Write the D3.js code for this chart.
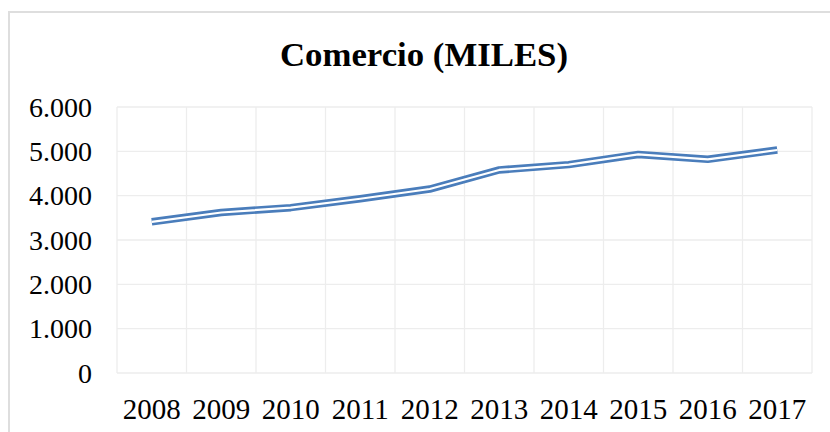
<!DOCTYPE html>
<html><head><meta charset="utf-8">
<script src="https://cdn.jsdelivr.net/npm/d3@7"></script>
<style>body{margin:0;background:#fff}svg{display:block}</style>
</head><body><svg id="c" width="830" height="432"></svg>
<script>
const years = ["2008","2009","2010","2011","2012","2013","2014","2015","2016","2017"];
const comercio = [3410, 3620, 3730, 3930, 4150, 4580, 4700, 4930, 4820, 5030];
const yTicks = [0, 1000, 2000, 3000, 4000, 5000, 6000];
const title = "Comercio (MILES)";

const svg = d3.select("#c");
const W = 830, H = 432;
const m = {l:117, r:812, t:107, b:373};
// chart border
svg.append("rect").attr("x",9).attr("y",12).attr("width",W+10).attr("height",H+10)
  .attr("fill","#fff").attr("stroke","#dedede").attr("stroke-width",2);

const x = d3.scaleBand().domain(years).range([m.l, m.r]);
const y = d3.scaleLinear().domain([0,6000]).range([m.b, m.t]);
const fmt = v => d3.format(",")(v).replace(/,/g,".");

// gridlines
const g = svg.append("g");
g.selectAll(".hg").data(yTicks).join("line")
  .attr("x1",m.l).attr("x2",m.r).attr("y1",d=>y(d)).attr("y2",d=>y(d))
  .attr("stroke","#ededed").attr("stroke-width",1.3);
const vx = years.map(d=>x(d)).concat([m.r]);
g.selectAll(".vg").data(vx).join("line")
  .attr("x1",d=>d).attr("x2",d=>d).attr("y1",m.t).attr("y2",m.b)
  .attr("stroke","#ededed").attr("stroke-width",1.3);

// y labels
svg.append("g").selectAll("text").data(yTicks).join("text")
  .attr("x",92).attr("y",d=>y(d)).attr("dy","0.35em")
  .attr("text-anchor","end")
  .attr("font-family","Liberation Serif, Times New Roman, serif")
  .attr("font-size",28).attr("fill","#000").text(fmt);

// x labels
svg.append("g").selectAll("text").data(years).join("text")
  .attr("x",d=>x(d)+x.bandwidth()/2).attr("y",419)
  .attr("text-anchor","middle")
  .attr("font-family","Liberation Serif, Times New Roman, serif")
  .attr("font-size",29).attr("fill","#000").text(d=>d);

// title
svg.append("text").attr("x",424).attr("y",66).attr("text-anchor","middle")
  .attr("font-family","Liberation Serif, Times New Roman, serif")
  .attr("font-weight","bold").attr("font-size",34)
  .attr("textLength",288).attr("lengthAdjust","spacingAndGlyphs")
  .attr("fill","#000").text(title);

// double line
const line = d3.line().x((d,i)=>x(years[i])+x.bandwidth()/2).y(d=>y(d));
svg.append("path").datum(comercio).attr("d",line).attr("fill","none")
  .attr("stroke","#4a7dbb").attr("stroke-width",7.5).attr("stroke-linejoin","round");
svg.append("path").datum(comercio).attr("d",line).attr("fill","none")
  .attr("stroke","#fff").attr("stroke-width",2.2).attr("stroke-linejoin","round");
</script></body></html>
